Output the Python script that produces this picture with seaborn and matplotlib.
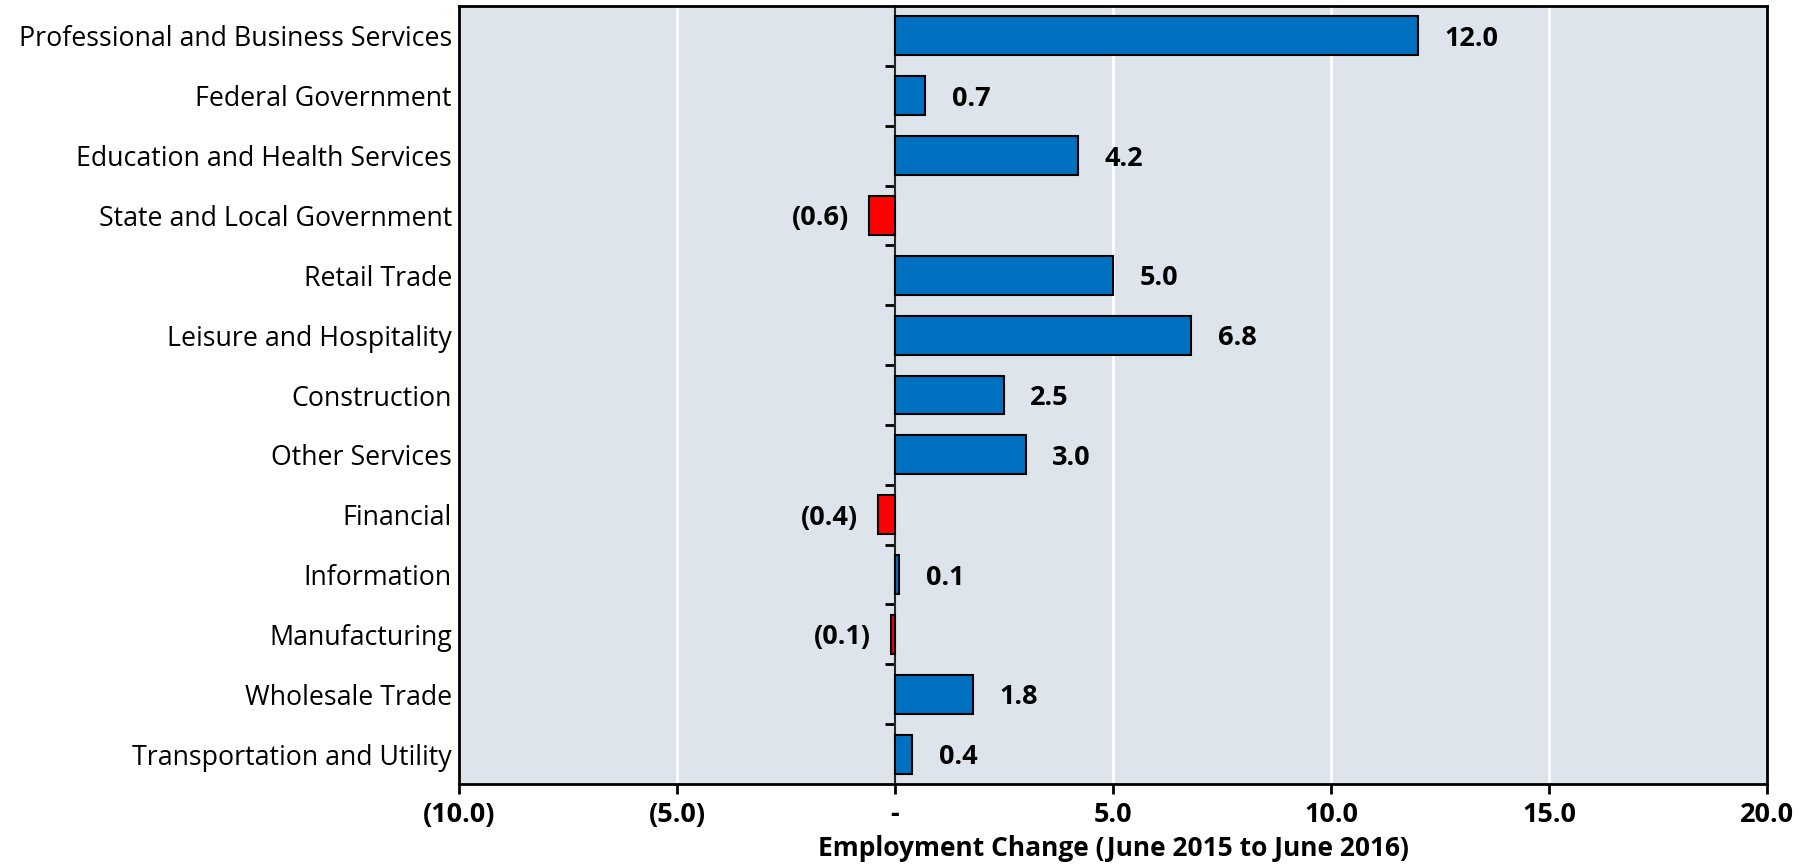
import numpy as np
import pandas as pd
import matplotlib
matplotlib.use("Agg")
import matplotlib.pyplot as plt
import seaborn as sns

# data
sectors = ["Professional and Business Services", "Federal Government",
           "Education and Health Services", "State and Local Government",
           "Retail Trade", "Leisure and Hospitality", "Construction",
           "Other Services", "Financial", "Information", "Manufacturing",
           "Wholesale Trade", "Transportation and Utility"]
change = [12.0, 0.7, 4.2, -0.6, 5.0, 6.8, 2.5, 3.0, -0.4, 0.1, -0.1, 1.8, 0.4]
x_ticks = [-10, -5, 0, 5, 10, 15, 20]
x_ticklabels = ["(10.0)", "(5.0)", "-", "5.0", "10.0", "15.0", "20.0"]

df = pd.DataFrame({"sector": sectors, "change": change})
bar_colors = ["#0070C0" if v >= 0 else "#FF0000" for v in change]

sns.set_style("white")
plt.rcParams["font.family"] = ["Open Sans", "DejaVu Sans"]
plt.rcParams["text.color"] = "black"
plt.rcParams["xtick.color"] = "black"
plt.rcParams["ytick.color"] = "black"
plt.rcParams["axes.labelcolor"] = "black"

fig = plt.figure(figsize=(18.19, 8.65), dpi=100)
ax = fig.add_axes([0.2523, 0.0936, 0.7191, 0.8995])
ax.set_facecolor("#DEE4EB")

sns.barplot(data=df, x="change", y="sector", hue="sector", palette=bar_colors,
            orient="h", width=0.65, edgecolor="black", linewidth=1.5,
            saturation=1, legend=False, ax=ax, zorder=3)

ax.set_xlim(-10, 20)
ax.set_xticks(x_ticks)
ax.set_xticklabels(x_ticklabels, fontsize=19.5, fontweight="bold")
for t in x_ticks:
    if -10 < t < 20 and t != 0:
        ax.axvline(t, color="white", lw=2, zorder=1)

ax.set_xlabel("Employment Change (June 2015 to June 2016)", fontsize=19,
              fontweight="bold", labelpad=5)
ax.set_ylabel("")
ax.tick_params(axis="y", left=False, length=0, pad=5, labelsize=19.3)
ax.tick_params(axis="x", bottom=True, direction="out", length=7, width=2, pad=6)
for s in ax.spines.values():
    s.set_linewidth(2)
    s.set_color("black")

# zero line with small ticks between categories
sec = ax.secondary_yaxis(1 / 3)
sec.set_yticks(np.arange(len(sectors) - 1) + 0.5)
sec.tick_params(left=True, length=7, width=2, labelleft=False, labelright=False)
sec.spines["left"].set_linewidth(1.5)

for i, v in enumerate(change):
    if v >= 0:
        ax.annotate(f"{v:.1f}", (v, i), xytext=(19, 0), textcoords="offset points",
                    ha="left", va="center_baseline", fontsize=19.5, fontweight="bold")
    else:
        ax.annotate(f"({abs(v):.1f})", (v, i), xytext=(-14, 0), textcoords="offset points",
                    ha="right", va="center_baseline", fontsize=19.5, fontweight="bold")

fig.savefig("out.png", dpi=100)
